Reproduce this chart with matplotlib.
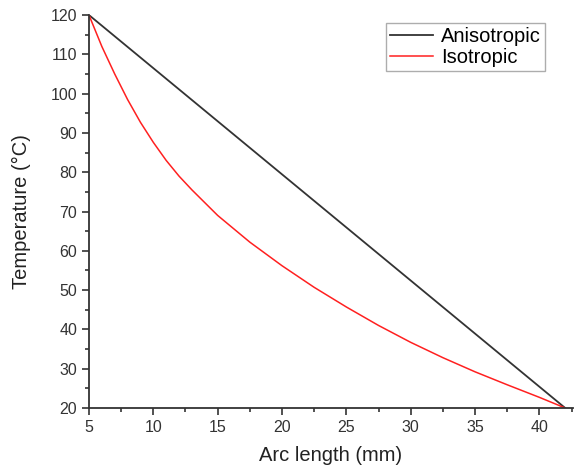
import numpy as np
import matplotlib.pyplot as plt
from matplotlib.ticker import MultipleLocator

plt.rcParams['font.family'] = ['Liberation Sans', 'DejaVu Sans']

# anisotropic: straight line between the two ends
x_aniso = [5, 42]
t_aniso = [120, 20]

# isotropic
x_iso = [5, 6, 7, 8, 9, 10, 11, 12, 13, 15, 17.5, 20, 22.5, 25, 27.5, 30,
         32.5, 35, 37.5, 40, 42]
t_iso = [120, 112, 105, 98.5, 92.7, 87.6, 83, 79, 75.5, 69, 62.2, 56.2, 50.7,
         45.7, 41, 36.7, 32.8, 29.2, 25.9, 22.7, 20]

fig = plt.figure(figsize=(5.74, 4.70), dpi=100)
ax = fig.add_axes([0.155, 0.132, 0.843, 0.836])

ax.plot(x_aniso, t_aniso, color='#333333', lw=1.3, label='Anisotropic')
ax.plot(x_iso, t_iso, color='#ff2020', lw=1.1, label='Isotropic')

ax.set_xlim(5, 42.6)
ax.set_ylim(20, 120)
ax.xaxis.set_major_locator(MultipleLocator(5))
ax.xaxis.set_minor_locator(MultipleLocator(2.5))
ax.yaxis.set_major_locator(MultipleLocator(10))
ax.yaxis.set_minor_locator(MultipleLocator(5))
ax.tick_params(which='both', direction='out', width=1.2, color='#333333', labelsize=11.5, labelcolor='#333333')
ax.tick_params(which='major', length=5)
ax.tick_params(which='minor', length=3)

for s in ['top', 'right']:
    ax.spines[s].set_visible(False)
for s in ['left', 'bottom']:
    ax.spines[s].set_linewidth(1.3)
    ax.spines[s].set_color('#333333')
    ax.spines[s].set_clip_on(False)

ax.set_xlabel('Arc length (mm)', fontsize=14.5, color='#222222', labelpad=8)
ax.set_ylabel('Temperature (°C)', fontsize=14.5, color='#222222', labelpad=14)

leg = ax.legend(loc='upper right', bbox_to_anchor=(0.95, 0.99), fontsize=14.5, fancybox=False,
                handlelength=2.1, borderpad=0.2, labelspacing=0.1, handletextpad=0.4,
                borderaxespad=0.2)
leg.get_frame().set_edgecolor('#999999')
leg.get_frame().set_linewidth(1.0)

fig.savefig('out.png', dpi=100)
